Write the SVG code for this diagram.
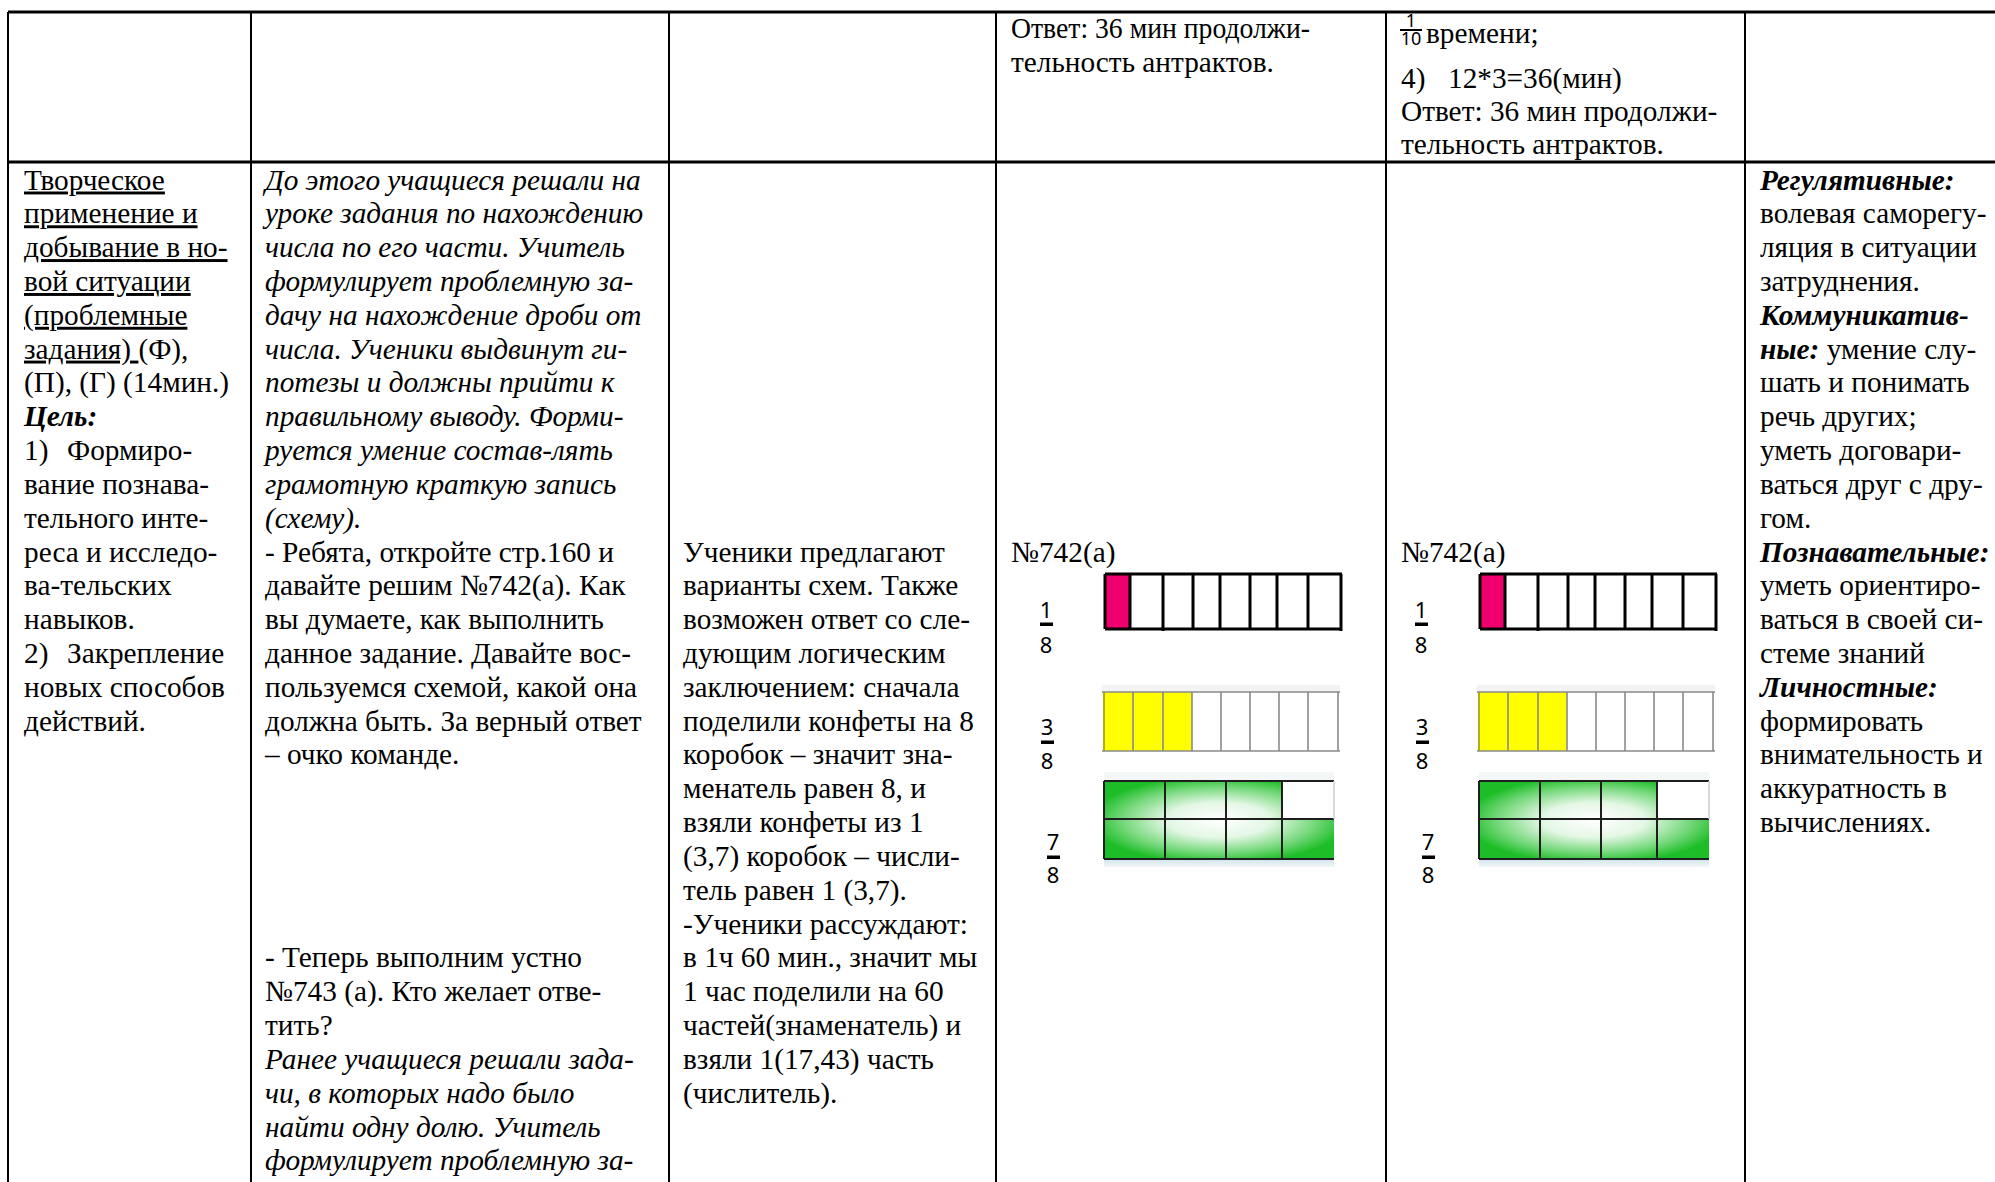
<svg xmlns="http://www.w3.org/2000/svg" xmlns:xlink="http://www.w3.org/1999/xlink" width="1995" height="1182" viewBox="0 0 1995 1182">
<style>
.t{font-family:"Liberation Serif","Times New Roman",serif;font-size:29.3px;fill:#000}
.i{font-style:italic}
.b{font-weight:bold}
.u{text-decoration:underline}
.f{font-family:"Noto Sans","DejaVu Sans",sans-serif;font-size:22px;fill:#000;text-anchor:middle}
.ff{font-family:"Noto Sans","DejaVu Sans",sans-serif;font-size:18px;fill:#000;text-anchor:middle}
.hl{stroke:#000;stroke-width:3;fill:none}
.vl{stroke:#000;stroke-width:2;fill:none}
.bk{stroke:#000;stroke-width:3;fill:none}
.gr{stroke:#8a8a8a;stroke-width:1.6;fill:none}
.gd{stroke:#1e1e1e;stroke-width:2;fill:none}
</style>
<defs>
<radialGradient id="gg" cx="0.5" cy="0.5" r="0.56">
<stop offset="0" stop-color="#ffffff"/>
<stop offset="0.4" stop-color="#e4f7e5"/>
<stop offset="0.75" stop-color="#74d87a"/>
<stop offset="1" stop-color="#1dbd27"/>
</radialGradient>
<linearGradient id="sh" x1="0" y1="0" x2="0" y2="1">
<stop offset="0" stop-color="#cfe3ea"/>
<stop offset="1" stop-color="#f2f7f9"/>
</linearGradient>
<g id="fig">
<text class="f" x="1046" y="618">1</text>
<rect x="1040" y="622.5" width="13" height="3.5" fill="#000"/>
<text class="f" x="1046" y="653">8</text>
<text class="f" x="1047" y="735">3</text>
<rect x="1041" y="740.5" width="13" height="3.5" fill="#000"/>
<text class="f" x="1047" y="769">8</text>
<text class="f" x="1053" y="850">7</text>
<rect x="1047" y="855.5" width="13" height="3.5" fill="#000"/>
<text class="f" x="1053" y="883">8</text>
<rect x="1105" y="574" width="25" height="55" fill="#f0006e"/>
<path class="bk" d="M1105 574H1342M1105 629H1342M1105 574V629M1130 574V629M1163 574V631M1193 574V629M1220 574V629M1250 574V629M1277 574V629M1308 574V629M1341 574V631"/>
<rect x="1102" y="685" width="238" height="7" fill="#f3f3f3"/>
<rect x="1103" y="692" width="89" height="59" fill="#ffff00"/>
<path class="gr" d="M1102 692H1340M1102 751H1340M1133 692V751M1163 692V751M1192 692V751M1221 692V751M1250 692V751M1279 692V751M1308 692V751M1338 692V751"/>
<path d="M1104 692V751" stroke="#9a9a30" stroke-width="1.6"/>
<rect x="1104" y="772" width="230" height="9" fill="#f3f7f8"/>
<rect x="1104" y="859" width="230" height="8" fill="url(#sh)"/>
<rect x="1104" y="781" width="230" height="78" fill="url(#gg)"/>
<rect x="1282" y="781" width="52" height="38" fill="#ffffff"/>
<path class="gd" d="M1104 781H1334M1104 819H1334M1104 859H1334M1104 781V859M1165 781V859M1226 781V859M1282 781V859"/>
<path d="M1334 781V819" stroke="#cccccc" stroke-width="1.5"/>
</g>
</defs>

<g id="table-grid">
<path class="hl" d="M8 12H1995M8 162H1995"/>
<path class="vl" d="M8 12V1182M251 12V1182M669 12V1182M996 12V1182M1386 12V1182M1745 12V1182"/>
</g>

<g id="cell-r1c4">
<text class="t" x="1011" y="38" textLength="299" lengthAdjust="spacingAndGlyphs">Ответ: 36 мин продолжи-</text>
<text class="t" x="1011" y="71.5">тельность антрактов.</text>
</g>

<g id="cell-r1c5">
<text class="ff" x="1411" y="27">1</text>
<rect x="1400" y="29" width="22" height="2" fill="#000"/>
<text class="ff" x="1411" y="45">10</text>
<text class="t" x="1426" y="43">времени;</text>
<text class="t" x="1401" y="88">4)</text>
<text class="t" x="1448" y="88">12*3=36(мин)</text>
<text class="t" x="1401" y="120.5">Ответ: 36 мин продолжи-</text>
<text class="t" x="1401" y="154">тельность антрактов.</text>
</g>

<g id="cell-r2c1">
<text class="t u" x="24" y="189.5">Творческое</text>
<text class="t u" x="24" y="223.3">применение и</text>
<text class="t u" x="24" y="257.1">добывание в но-</text>
<text class="t u" x="24" y="291">вой ситуации</text>
<text class="t u" x="24" y="324.8">(проблемные</text>
<text class="t" x="24" y="358.6"><tspan class="u">задания) </tspan>(Ф),</text>
<text class="t" x="24" y="392.4">(П), (Г) (14мин.)</text>
<text class="t i b" x="24" y="426.2">Цель:</text>
<text class="t" x="24" y="460.1">1)</text>
<text class="t" x="67" y="460.1">Формиро-</text>
<text class="t" x="24" y="493.9">вание познава-</text>
<text class="t" x="24" y="527.7">тельного инте-</text>
<text class="t" x="24" y="561.5">реса и исследо-</text>
<text class="t" x="24" y="595.3">ва-тельских</text>
<text class="t" x="24" y="629.2">навыков.</text>
<text class="t" x="24" y="663">2)</text>
<text class="t" x="67" y="663">Закрепление</text>
<text class="t" x="24" y="696.8">новых способов</text>
<text class="t" x="24" y="730.6">действий.</text>
</g>

<g id="cell-r2c2">
<text class="t i" x="265" y="189.5">До этого учащиеся решали на</text>
<text class="t i" x="265" y="223.3">уроке задания по нахождению</text>
<text class="t i" x="265" y="257.1">числа по его части. Учитель</text>
<text class="t i" x="265" y="291">формулирует проблемную за-</text>
<text class="t i" x="265" y="324.8">дачу на нахождение дроби от</text>
<text class="t i" x="265" y="358.6">числа. Ученики выдвинут ги-</text>
<text class="t i" x="265" y="392.4">потезы и должны прийти к</text>
<text class="t i" x="265" y="426.2">правильному выводу. Форми-</text>
<text class="t i" x="265" y="460.1">руется умение состав-лять</text>
<text class="t i" x="265" y="493.9">грамотную краткую запись</text>
<text class="t i" x="265" y="527.7">(схему).</text>
<text class="t" x="265" y="561.5">- Ребята, откройте стр.160 и</text>
<text class="t" x="265" y="595.3">давайте решим №742(а). Как</text>
<text class="t" x="265" y="629.2">вы думаете, как выполнить</text>
<text class="t" x="265" y="663">данное задание. Давайте вос-</text>
<text class="t" x="265" y="696.8">пользуемся схемой, какой она</text>
<text class="t" x="265" y="730.6">должна быть. За верный ответ</text>
<text class="t" x="265" y="764.4">– очко команде.</text>
<text class="t" x="265" y="967.4">- Теперь выполним устно</text>
<text class="t" x="265" y="1001.2">№743 (а). Кто желает отве-</text>
<text class="t" x="265" y="1035">тить?</text>
<text class="t i" x="265" y="1068.8">Ранее учащиеся решали зада-</text>
<text class="t i" x="265" y="1102.6">чи, в которых надо было</text>
<text class="t i" x="265" y="1136.5">найти одну долю. Учитель</text>
<text class="t i" x="265" y="1170.3">формулирует проблемную за-</text>
</g>

<g id="cell-r2c3">
<text class="t" x="683" y="561.5">Ученики предлагают</text>
<text class="t" x="683" y="595.3">варианты схем. Также</text>
<text class="t" x="683" y="629.2">возможен ответ со сле-</text>
<text class="t" x="683" y="663">дующим логическим</text>
<text class="t" x="683" y="696.8">заключением: сначала</text>
<text class="t" x="683" y="730.6">поделили конфеты на 8</text>
<text class="t" x="683" y="764.4">коробок – значит зна-</text>
<text class="t" x="683" y="798.3">менатель равен 8, и</text>
<text class="t" x="683" y="832.1">взяли конфеты из 1</text>
<text class="t" x="683" y="865.9">(3,7) коробок – числи-</text>
<text class="t" x="683" y="899.7">тель равен 1 (3,7).</text>
<text class="t" x="683" y="933.5">-Ученики рассуждают:</text>
<text class="t" x="683" y="967.4">в 1ч 60 мин., значит мы</text>
<text class="t" x="683" y="1001.2">1 час поделили на 60</text>
<text class="t" x="683" y="1035">частей(знаменатель) и</text>
<text class="t" x="683" y="1068.8">взяли 1(17,43) часть</text>
<text class="t" x="683" y="1102.6">(числитель).</text>
</g>

<g id="cell-r2c4">
<text class="t" x="1011" y="561.5">№742(а)</text>
<use xlink:href="#fig" href="#fig"/>
</g>

<g id="cell-r2c5">
<text class="t" x="1401" y="561.5">№742(а)</text>
<use xlink:href="#fig" href="#fig" transform="translate(375,0)"/>
</g>

<g id="cell-r2c6">
<text class="t i b" x="1760" y="189.5">Регулятивные:</text>
<text class="t" x="1760" y="223.3">волевая саморегу-</text>
<text class="t" x="1760" y="257.1">ляция в ситуации</text>
<text class="t" x="1760" y="291">затруднения.</text>
<text class="t i b" x="1760" y="324.8">Коммуникатив-</text>
<text class="t" x="1760" y="358.6"><tspan class="i b">ные:</tspan> умение слу-</text>
<text class="t" x="1760" y="392.4">шать и понимать</text>
<text class="t" x="1760" y="426.2">речь других;</text>
<text class="t" x="1760" y="460.1">уметь договари-</text>
<text class="t" x="1760" y="493.9">ваться друг с дру-</text>
<text class="t" x="1760" y="527.7">гом.</text>
<text class="t i b" x="1760" y="561.5">Познавательные:</text>
<text class="t" x="1760" y="595.3">уметь ориентиро-</text>
<text class="t" x="1760" y="629.2">ваться в своей си-</text>
<text class="t" x="1760" y="663">стеме знаний</text>
<text class="t i b" x="1760" y="696.8">Личностные:</text>
<text class="t" x="1760" y="730.6">формировать</text>
<text class="t" x="1760" y="764.4">внимательность и</text>
<text class="t" x="1760" y="798.3">аккуратность в</text>
<text class="t" x="1760" y="832.1">вычислениях.</text>
</g>
</svg>
